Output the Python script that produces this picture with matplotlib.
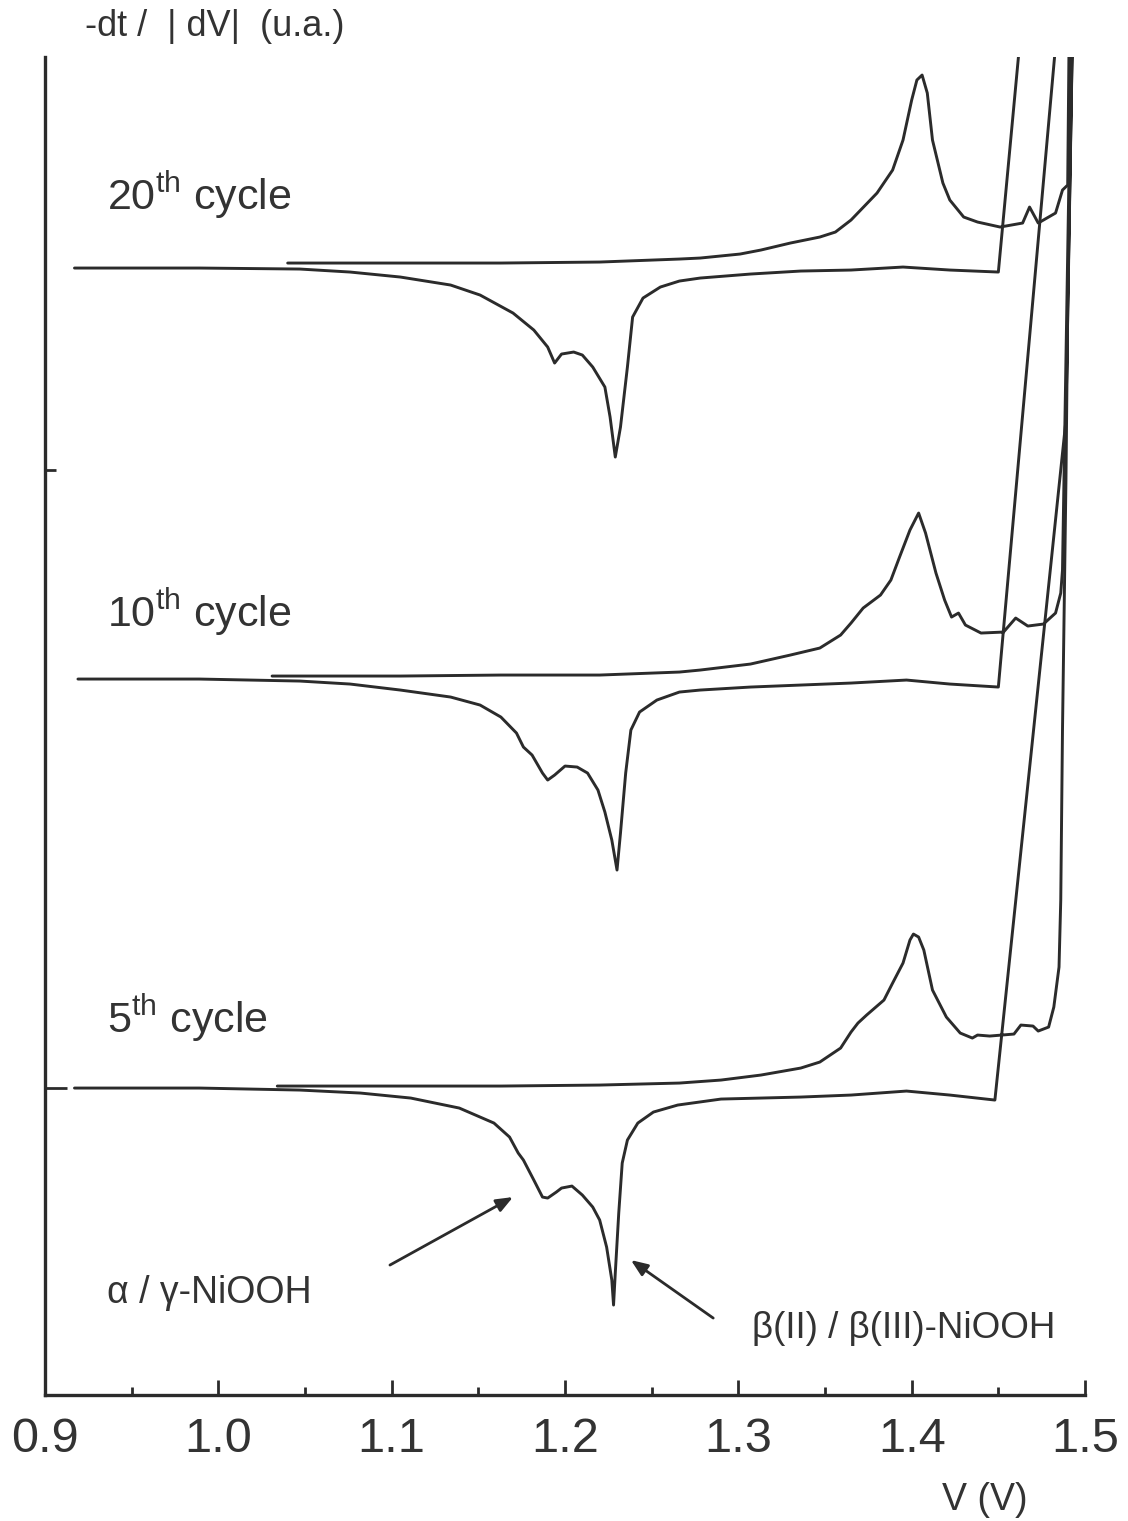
import matplotlib
matplotlib.use("Agg")
import matplotlib.pyplot as plt
from matplotlib.ticker import FixedLocator

plt.rcParams["font.family"] = ["Liberation Sans", "DejaVu Sans"]
plt.rcParams["mathtext.fontset"] = "custom"
plt.rcParams["mathtext.rm"] = "Liberation Sans"
plt.rcParams["mathtext.it"] = "Liberation Sans:italic"
plt.rcParams["mathtext.bf"] = "Liberation Sans:bold"

INK = "#2b2b2b"

# ---------------------------------------------------------------- data
# Each cycle: anodic (charge) branch followed by the cathodic (discharge)
# branch, as V (V) and -dt/|dV| (u.a.) relative to the cycle's baseline.
cycle_names = ["20", "10", "5"]
cycle_offsets = [11.27, 7.15, 3.07]

v_20 = [1.040, 1.105, 1.163, 1.220, 1.266, 1.278, 1.301, 1.313, 1.330, 1.347,
        1.356, 1.365, 1.380, 1.389, 1.395, 1.400, 1.403, 1.406, 1.409, 1.412,
        1.418, 1.422, 1.430, 1.438, 1.451, 1.464, 1.468, 1.473, 1.483, 1.487,
        1.490, 1.494,
        1.450, 1.422, 1.395, 1.365, 1.336, 1.307, 1.278, 1.266, 1.255, 1.245,
        1.239, 1.236, 1.232, 1.229, 1.226, 1.223, 1.216, 1.210, 1.205, 1.198,
        1.194, 1.190, 1.182, 1.170, 1.151, 1.134, 1.105, 1.076, 1.047, 0.989,
        0.917]
y_20 = [0.05, 0.05, 0.05, 0.06, 0.09, 0.10, 0.14, 0.18, 0.25, 0.31,
        0.36, 0.48, 0.75, 0.98, 1.28, 1.68, 1.88, 1.93, 1.75, 1.28,
        0.85, 0.68, 0.51, 0.46, 0.41, 0.45, 0.61, 0.45, 0.55, 0.78,
        0.83, 8.13,
        -0.04, -0.02, 0.01, -0.02, -0.03, -0.06, -0.10, -0.13, -0.19, -0.30,
        -0.49, -0.99, -1.59, -1.89, -1.49, -1.19, -0.99, -0.87, -0.84, -0.86,
        -0.95, -0.79, -0.62, -0.45, -0.27, -0.17, -0.09, -0.04, -0.01, 0.00,
        0.00]

v_10 = [1.031, 1.105, 1.163, 1.220, 1.266, 1.278, 1.307, 1.330, 1.347, 1.359,
        1.365, 1.372, 1.382, 1.388, 1.393, 1.399, 1.404, 1.408, 1.414, 1.419,
        1.423, 1.427, 1.431, 1.440, 1.453, 1.460, 1.467, 1.476, 1.483, 1.486,
        1.487, 1.494,
        1.450, 1.422, 1.397, 1.365, 1.336, 1.307, 1.278, 1.266, 1.253, 1.243,
        1.238, 1.235, 1.232, 1.230, 1.227, 1.223, 1.219, 1.213, 1.207, 1.200,
        1.194, 1.190, 1.187, 1.181, 1.176, 1.172, 1.163, 1.151, 1.134, 1.105,
        1.076, 1.047, 0.989, 0.919]
y_10 = [0.04, 0.04, 0.05, 0.05, 0.08, 0.10, 0.16, 0.25, 0.32, 0.45,
        0.57, 0.72, 0.85, 1.00, 1.23, 1.50, 1.67, 1.47, 1.07, 0.80,
        0.63, 0.67, 0.55, 0.47, 0.48, 0.62, 0.54, 0.56, 0.67, 0.87,
        1.10, 8.48,
        -0.07, -0.04, 0.00, -0.03, -0.05, -0.07, -0.10, -0.12, -0.20, -0.32,
        -0.50, -0.93, -1.53, -1.90, -1.60, -1.32, -1.10, -0.93, -0.87, -0.86,
        -0.95, -1.00, -0.93, -0.75, -0.67, -0.53, -0.37, -0.25, -0.17, -0.10,
        -0.04, -0.01, 0.01, 0.01]

v_5 = [1.034, 1.105, 1.163, 1.220, 1.266, 1.290, 1.313, 1.336, 1.347, 1.359,
       1.365, 1.369, 1.374, 1.384, 1.389, 1.395, 1.399, 1.401, 1.404, 1.407,
       1.412, 1.420, 1.428, 1.435, 1.438, 1.445, 1.459, 1.463, 1.470, 1.473,
       1.479, 1.482, 1.485, 1.486, 1.487, 1.489, 1.490, 1.496,
       1.489, 1.448, 1.422, 1.397, 1.365, 1.336, 1.290, 1.265, 1.251, 1.242,
       1.236, 1.233, 1.231, 1.229, 1.228, 1.227, 1.224, 1.220, 1.216, 1.210,
       1.204, 1.198, 1.195, 1.190, 1.187, 1.182, 1.176, 1.173, 1.168, 1.159,
       1.139, 1.111, 1.082, 1.047, 0.989, 0.917]
y_5 = [0.02, 0.02, 0.02, 0.03, 0.05, 0.08, 0.13, 0.20, 0.26, 0.40,
       0.56, 0.65, 0.73, 0.88, 1.05, 1.25, 1.48, 1.54, 1.51, 1.38,
       0.98, 0.71, 0.55, 0.50, 0.53, 0.52, 0.54, 0.63, 0.62, 0.57,
       0.61, 0.81, 1.21, 1.88, 3.58, 6.08, 7.78, 13.88,
       6.68, -0.12, -0.07, -0.03, -0.07, -0.09, -0.11, -0.17, -0.24, -0.35,
       -0.52, -0.75, -1.25, -1.85, -2.17, -1.92, -1.59, -1.32, -1.19, -1.07,
       -0.98, -1.00, -1.04, -1.10, -1.09, -0.92, -0.72, -0.65, -0.49, -0.35,
       -0.20, -0.10, -0.05, -0.02, 0.00, 0.00]

curves_v = [v_20, v_10, v_5]
curves_y = [y_20, y_10, y_5]

x_major = [0.9, 1.0, 1.1, 1.2, 1.3, 1.4, 1.5]
x_minor = [0.95, 1.05, 1.15, 1.25, 1.35, 1.45]
x_labels = ["0.9", "1.0", "1.1", "1.2", "1.3", "1.4", "1.5"]

# ---------------------------------------------------------------- figure
fig = plt.figure(figsize=(11.28, 15.21), dpi=100)
ax = fig.add_axes([0.0399, 0.0828, 0.9220, 0.8797])

for v, y, off in zip(curves_v, curves_y, cycle_offsets):
    ax.plot(v, [off + s for s in y], color=INK, lw=2.1,
            solid_joinstyle="round", solid_capstyle="round")

ax.set_xlim(0.9, 1.5)
ax.set_ylim(0.0, 13.38)

for side in ("top", "right"):
    ax.spines[side].set_visible(False)
for side in ("left", "bottom"):
    ax.spines[side].set_linewidth(2.4)
    ax.spines[side].set_color(INK)

ax.xaxis.set_major_locator(FixedLocator(x_major))
ax.xaxis.set_minor_locator(FixedLocator(x_minor))
ax.set_xticklabels(x_labels)
ax.tick_params(axis="x", which="major", direction="in", length=11, width=2.0,
               color=INK, labelsize=35, labelcolor="#333333", pad=16)
ax.tick_params(axis="x", which="minor", direction="in", length=6, width=2.0,
               color=INK)

ax.yaxis.set_major_locator(FixedLocator([3.07]))
ax.yaxis.set_minor_locator(FixedLocator([9.25]))
ax.tick_params(axis="y", which="major", direction="in", length=16, width=2.0,
               color=INK, labelleft=False)
ax.tick_params(axis="y", which="minor", direction="in", length=8, width=2.0,
               color=INK)

# cycle labels
label_y = [12.00, 7.83, 3.77]
for name, ly in zip(cycle_names, label_y):
    ax.text(0.936, ly, name + r"$^{\mathrm{th}}$" + " cycle", fontsize=31,
            color="#333333", va="center", ha="left")

# peak assignments
ax.text(0.936, 1.02, "α / γ-NiOOH", fontsize=27, color="#333333",
        va="center", ha="left")
ax.text(1.308, 0.67, "β(II) / β(III)-NiOOH", fontsize=26.5, color="#333333",
        va="center", ha="left")
arrow_style = dict(arrowstyle="-|>,head_length=1.0,head_width=0.4",
                   color=INK, lw=2.0, shrinkA=0, shrinkB=0)
ax.annotate("", xy=(1.170, 1.98), xytext=(1.099, 1.30),
            arrowprops=arrow_style)
ax.annotate("", xy=(1.238, 1.35), xytext=(1.2855, 0.77),
            arrowprops=arrow_style)

# axis titles
fig.text(85 / 1128, 1 - 26 / 1521, "-dt /  | dV|  (u.a.)", fontsize=26,
         color="#333333", va="center", ha="left")
fig.text(985 / 1128, 1 - 1500 / 1521, "V (V)", fontsize=27,
         color="#333333", va="center", ha="center")

fig.savefig("out.png", dpi=100, facecolor="white")
